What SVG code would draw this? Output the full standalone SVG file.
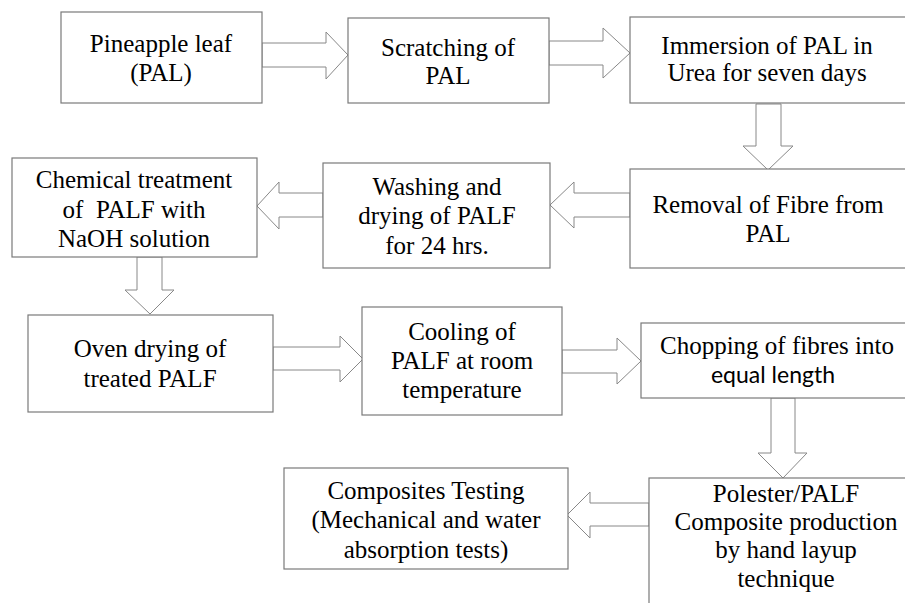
<svg xmlns="http://www.w3.org/2000/svg" width="905" height="603" viewBox="0 0 905 603">
  <style>
    .box { fill: #ffffff; stroke: #7a7a7a; stroke-width: 1.2; }
    .arrow { fill: #ffffff; stroke: #888888; stroke-width: 1; stroke-linejoin: miter; }
    .lbl { font-family: 'Liberation Serif', 'DejaVu Serif', 'Times New Roman', serif; font-size: 25px; fill: #000000; text-anchor: middle; }
    .sans { font-family: Lato, 'Open Sans', sans-serif; font-size: 23px; }
  </style>
  <rect width="905" height="603" fill="#ffffff"/>

  <!-- connectors: hollow block arrows -->
  <g id="connectors">
    <polygon class="arrow" points="262,43 326,43 326,32 348,55 326,79 326,67 262,67"/>
    <polygon class="arrow" points="549,41 603,41 603,28 630,53 603,78 603,65 549,65"/>
    <polygon class="arrow" points="756,104 781,104 781,146 793,146 768,170 743,146 756,146"/>
    <polygon class="arrow" points="630,193 574,193 574,182 550,205 574,228 574,217 630,217"/>
    <polygon class="arrow" points="323,193 279,193 279,182 257,206 279,229 279,217 323,217"/>
    <polygon class="arrow" points="137,257 162,257 162,290 174,290 150,314 125,290 137,290"/>
    <polygon class="arrow" points="273,347 340,347 340,336 363,359 340,382 340,370 273,370"/>
    <polygon class="arrow" points="562,350 617,350 617,338 641,361 617,384 617,373 562,373"/>
    <polygon class="arrow" points="771,398 795,398 795,453 807,453 783,478 758,453 771,453"/>
    <polygon class="arrow" points="649,503 590,503 590,492 567,515 590,538 590,526 649,526"/>
  </g>

  <g id="pineapple-leaf" class="lbl" font-family="Liberation Serif, serif">
    <rect class="box" x="61" y="12" width="201" height="91"/>
    <text x="161" y="52">Pineapple leaf</text>
    <text x="161" y="81">(PAL)</text>
  </g>

  <g id="scratching" class="lbl" font-family="Liberation Serif, serif">
    <rect class="box" x="348" y="18" width="201" height="85"/>
    <text x="448" y="56">Scratching of</text>
    <text x="448" y="84">PAL</text>
  </g>

  <g id="immersion" class="lbl" font-family="Liberation Serif, serif">
    <rect class="box" x="630" y="17" width="290" height="86"/>
    <text x="767" y="54">Immersion of PAL in</text>
    <text x="767" y="81">Urea for seven days</text>
  </g>

  <g id="removal" class="lbl" font-family="Liberation Serif, serif">
    <rect class="box" x="630" y="169" width="290" height="99"/>
    <text x="768" y="213">Removal of Fibre from</text>
    <text x="768" y="242">PAL</text>
  </g>

  <g id="washing" class="lbl" font-family="Liberation Serif, serif">
    <rect class="box" x="323" y="163" width="227" height="105"/>
    <text x="437" y="195">Washing and</text>
    <text x="437" y="224">drying of PALF</text>
    <text x="437" y="254">for 24 hrs.</text>
  </g>

  <g id="chemical-treatment" class="lbl" font-family="Liberation Serif, serif">
    <rect class="box" x="12" y="158" width="245" height="99"/>
    <text x="134" y="188">Chemical treatment</text>
    <text x="134" y="218" xml:space="preserve">of  PALF with</text>
    <text x="134" y="247">NaOH solution</text>
  </g>

  <g id="oven-drying" class="lbl" font-family="Liberation Serif, serif">
    <rect class="box" x="28" y="315" width="245" height="97"/>
    <text x="150" y="357">Oven drying of</text>
    <text x="150" y="387">treated PALF</text>
  </g>

  <g id="cooling" class="lbl" font-family="Liberation Serif, serif">
    <rect class="box" x="362" y="307" width="200" height="108"/>
    <text x="462" y="340">Cooling of</text>
    <text x="462" y="369">PALF at room</text>
    <text x="462" y="398">temperature</text>
  </g>

  <g id="chopping" class="lbl" font-family="Liberation Serif, serif">
    <rect class="box" x="641" y="323" width="280" height="75"/>
    <text x="777" y="354">Chopping of fibres into</text>
    <text class="sans" x="773" y="383">equal length</text>
  </g>

  <g id="composite-production" class="lbl" font-family="Liberation Serif, serif">
    <rect class="box" x="649" y="478" width="280" height="140"/>
    <text x="786" y="502">Polester/PALF</text>
    <text x="786" y="530">Composite production</text>
    <text x="786" y="558">by hand layup</text>
    <text x="786" y="587">technique</text>
  </g>

  <g id="composites-testing" class="lbl" font-family="Liberation Serif, serif">
    <rect class="box" x="284" y="468" width="284" height="101"/>
    <text x="426" y="499">Composites Testing</text>
    <text x="426" y="528">(Mechanical and water</text>
    <text x="426" y="558">absorption tests)</text>
  </g>
</svg>
